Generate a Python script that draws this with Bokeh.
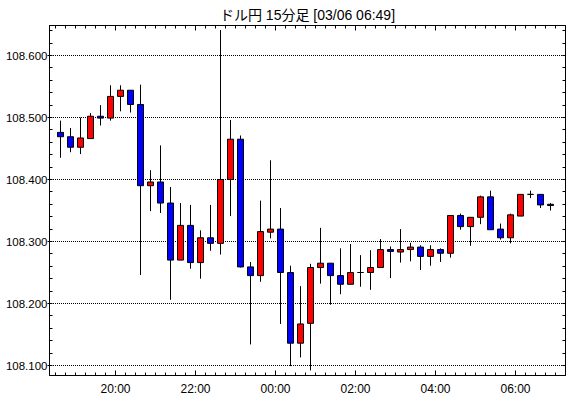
import numpy as np
from bokeh.plotting import figure
from bokeh.models import FixedTicker, LinearAxis, Range1d, ColumnDataSource
from bokeh.embed import file_html
from bokeh.resources import INLINE

title_text = "ドル円 15分足 [03/06 06:49]"

bar_times = ["18:30", "18:45", "19:00", "19:15", "19:30", "19:45",
             "20:00", "20:15", "20:30", "20:45", "21:00", "21:15",
             "21:30", "21:45", "22:00", "22:15", "22:30", "22:45",
             "23:00", "23:15", "23:30", "23:45", "00:00", "00:15",
             "00:30", "00:45", "01:00", "01:15", "01:30", "01:45",
             "02:00", "02:15", "02:30", "02:45", "03:00", "03:15",
             "03:30", "03:45", "04:00", "04:15", "04:30", "04:45",
             "05:00", "05:15", "05:30", "05:45", "06:00", "06:15",
             "06:30", "06:45"]
opens = [108.476, 108.469, 108.452, 108.466, 108.502, 108.499,
         108.534, 108.544, 108.521, 108.390, 108.396, 108.362,
         108.270, 108.326, 108.266, 108.306, 108.297, 108.400,
         108.465, 108.259, 108.245, 108.315, 108.320, 108.250,
         108.136, 108.168, 108.258, 108.265, 108.245, 108.231,
         108.250, 108.250, 108.258, 108.287, 108.283, 108.287,
         108.291, 108.276, 108.287, 108.281, 108.342, 108.324,
         108.339, 108.372, 108.320, 108.306, 108.341, 108.376,
         108.376, 108.360]
highs = [108.495, 108.483, 108.500, 108.507, 108.520, 108.552,
         108.552, 108.544, 108.553, 108.415, 108.455, 108.388,
         108.362, 108.359, 108.318, 108.359, 108.641, 108.496,
         108.471, 108.267, 108.366, 108.431, 108.354, 108.261,
         108.228, 108.264, 108.322, 108.265, 108.289, 108.296,
         108.278, 108.286, 108.304, 108.292, 108.320, 108.298,
         108.294, 108.294, 108.289, 108.342, 108.345, 108.339,
         108.374, 108.382, 108.329, 108.345, 108.376, 108.382,
         108.376, 108.362]
lows = [108.435, 108.444, 108.441, 108.466, 108.487, 108.495,
        108.510, 108.508, 108.246, 108.349, 108.346, 108.206,
        108.270, 108.256, 108.240, 108.285, 108.279, 108.341,
        108.258, 108.134, 108.235, 108.305, 108.167, 108.099,
        108.113, 108.092, 108.232, 108.198, 108.215, 108.231,
        108.227, 108.222, 108.258, 108.241, 108.266, 108.268,
        108.254, 108.261, 108.267, 108.274, 108.319, 108.293,
        108.328, 108.319, 108.303, 108.297, 108.341, 108.370,
        108.354, 108.350]
closes = [108.469, 108.452, 108.467, 108.502, 108.499, 108.534,
          108.544, 108.521, 108.390, 108.396, 108.362, 108.270,
          108.326, 108.266, 108.306, 108.297, 108.400, 108.465,
          108.259, 108.245, 108.316, 108.320, 108.250, 108.136,
          108.167, 108.258, 108.265, 108.245, 108.231, 108.250,
          108.250, 108.258, 108.287, 108.284, 108.287, 108.291,
          108.276, 108.287, 108.281, 108.342, 108.324, 108.339,
          108.372, 108.319, 108.306, 108.343, 108.376, 108.376,
          108.359, 108.358]

x_tick_labels = ["20:00", "22:00", "00:00", "02:00", "04:00", "06:00"]
y_ticks = [108.1, 108.2, 108.3, 108.4, 108.5, 108.6]
y_tick_labels = ["108.100", "108.200", "108.300", "108.400", "108.500", "108.600"]

UP = "#ff0000"
DOWN = "#0000ff"
FONT = "Liberation Sans"


def hours_since_start(t):
    hh, mm = t.split(":")
    h = int(hh) + int(mm) / 60.0
    if h < 18:
        h += 24
    return h - 18.0


bar_len = 0.25
xs = [hours_since_start(t) + bar_len / 2 for t in bar_times]
tops = [max(o, c) for o, c in zip(opens, closes)]
bottoms = [min(o, c) for o, c in zip(opens, closes)]
colors = [UP if c >= o else DOWN for o, c in zip(opens, closes)]
src = ColumnDataSource(dict(x=xs, high=highs, low=lows, top=tops,
                            bottom=bottoms, color=colors))

x_major = [hours_since_start(t) for t in x_tick_labels]
x_minor = list(np.arange(0.5, 13.01, 0.25))
y_minor = list(np.round(np.arange(108.08, 108.66, 0.02), 3))

W, H = 570, 398
BL, BR, BT, BB = 49, 5, 25, 23
FW, FH = W - BL - BR, H - BT - BB
PX_PER_HOUR = 40.0
PX_PER_TENTH = 62.0
x_lo = 0.35
x_hi = x_lo + FW / PX_PER_HOUR
y_lo = 108.1 - 10.0 / (PX_PER_TENTH * 10)
y_hi = y_lo + FH / (PX_PER_TENTH * 10)

p = figure(width=W, height=H,
           x_range=Range1d(x_lo, x_hi), y_range=Range1d(y_lo, y_hi),
           output_backend="svg", toolbar_location=None,
           min_border_left=BL, min_border_right=BR, min_border_top=BT,
           min_border_bottom=BB, x_axis_location=None, y_axis_location=None,
           background_fill_color="white", border_fill_color="white")

p.title.text = title_text
p.title.align = "center"
p.title.vertical_align = "bottom"
p.title.text_font = "'Liberation Sans', 'Noto Sans CJK JP'"
p.title.text_font_size = "14px"
p.title.text_font_style = "normal"
p.title.text_color = "black"
p.title.standoff = 6
p.title.offset = 0

p.outline_line_color = "black"
p.outline_line_width = 1
p.outline_line_alpha = 1.0

xticker = FixedTicker(ticks=x_major, minor_ticks=x_minor)
yticker = FixedTicker(ticks=y_ticks, minor_ticks=y_minor)
x_over = {v: lab for v, lab in zip(x_major, x_tick_labels)}
y_over = {v: lab for v, lab in zip(y_ticks, y_tick_labels)}


def style_axis(ax, major_in, major_out, minor_in, show_labels, standoff):
    ax.axis_line_color = "black"
    ax.major_tick_line_color = "black"
    ax.minor_tick_line_color = "black"
    ax.major_tick_in = major_in
    ax.major_tick_out = major_out
    ax.minor_tick_in = minor_in
    ax.minor_tick_out = 0
    ax.major_label_standoff = standoff
    ax.major_label_text_font = FONT
    ax.major_label_text_color = "black"
    if not show_labels:
        ax.major_label_text_font_size = "0px"
        ax.major_label_text_alpha = 0


xb = LinearAxis(ticker=xticker, major_label_overrides=x_over)
style_axis(xb, 5, 0, 3, True, 6)
xb.major_label_text_font_size = "12px"
p.add_layout(xb, "below")

xa = LinearAxis(ticker=xticker, major_label_overrides={v: "" for v in x_major})
style_axis(xa, 5, 0, 3, False, 0)
p.add_layout(xa, "above")

yl = LinearAxis(ticker=yticker, major_label_overrides=y_over)
style_axis(yl, 0, 2, 3, True, 0)
yl.major_label_text_font_size = "11.5px"
p.add_layout(yl, "left")

yr = LinearAxis(ticker=yticker, major_label_overrides={v: "" for v in y_ticks})
style_axis(yr, 3, 0, 3, False, 0)
p.add_layout(yr, "right")

p.xgrid.visible = False
p.ygrid.visible = False

# dotted horizontal grid lines at the price ticks (start half a pixel left so
# the 1px dots fall on whole pixels)
grid_x0 = x_lo - 0.5 / PX_PER_HOUR
p.segment(x0=[grid_x0] * len(y_ticks), x1=[x_hi] * len(y_ticks),
          y0=y_ticks, y1=y_ticks, line_color="black", line_width=1,
          line_dash="1 1")

p.segment(x0="x", y0="low", x1="x", y1="high", source=src,
          line_color="black", line_width=1)
p.vbar(x="x", top="top", bottom="bottom", width=6.0 / PX_PER_HOUR, source=src,
       fill_color="color", line_color="black", line_width=1)

open("out.html", "w").write(file_html(p, INLINE))
